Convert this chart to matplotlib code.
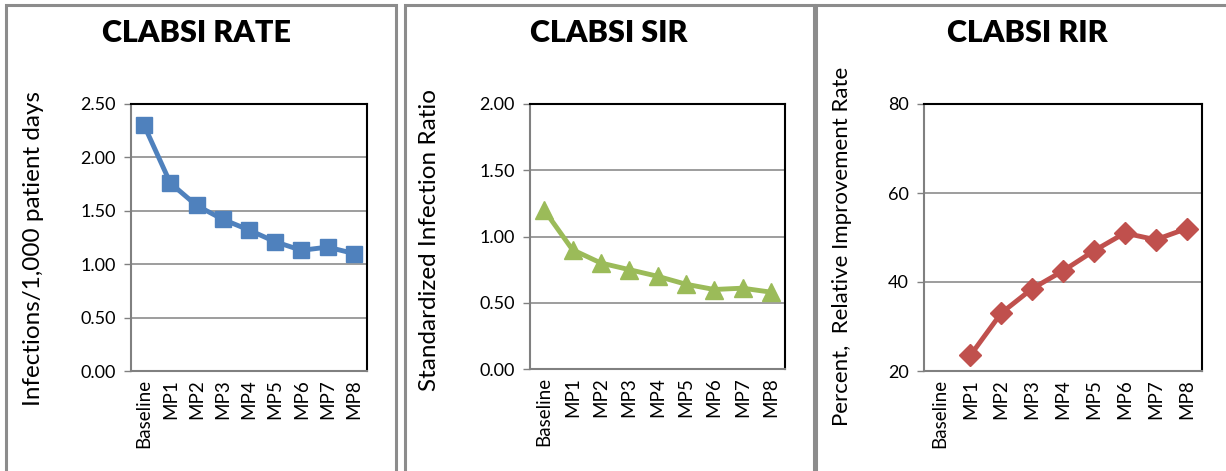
import matplotlib
matplotlib.use("Agg")
import matplotlib.pyplot as plt
from matplotlib.patches import Rectangle
import numpy as np

categories = ["Baseline", "MP1", "MP2", "MP3", "MP4", "MP5", "MP6", "MP7", "MP8"]
rate = [2.30, 1.76, 1.55, 1.42, 1.32, 1.21, 1.13, 1.16, 1.10]
sir = [1.20, 0.90, 0.80, 0.75, 0.70, 0.64, 0.60, 0.61, 0.58]
rir = [np.nan, 23.5, 33.0, 38.5, 42.5, 47.0, 51.0, 49.5, 52.0]

W, H = 1226, 471
plt.rcParams["font.family"] = ["Lato", "DejaVu Sans"]

fig = plt.figure(figsize=(W / 100, H / 100), dpi=100)


def px_axes(left, top, right, bottom):
    return fig.add_axes([left / W, 1 - bottom / H, (right - left) / W, (bottom - top) / H])


# panel frames (left, right in pixels)
for x0, x1 in [(6, 396), (405, 814), (816, 1240)]:
    fig.patches.append(Rectangle((x0 / W, -0.1), (x1 - x0) / W, 1.1 - 5 / H,
                                 transform=fig.transFigure, fill=False,
                                 edgecolor="#8c8c8c", linewidth=2.2))

panels = [
    dict(box=(131, 104, 367, 371), data=rate, color="#4F81BD", marker="s", ms=11.5,
         ylim=(0, 2.5), ticks=np.arange(0, 2.51, 0.5), fmt="{:.2f}",
         title="CLABSI RATE", title_x=196, ylabel="Infections/1,000 patient days",
         ylab_x=34, ylab_y=248, ylab_size=17.5),
    dict(box=(530, 104, 785, 369), data=sir, color="#9BBB59", marker="^", ms=12.5,
         ylim=(0, 2.0), ticks=np.arange(0, 2.01, 0.5), fmt="{:.2f}",
         title="CLABSI SIR", title_x=609, ylabel="Standardized Infection Ratio",
         ylab_x=430, ylab_y=240, ylab_size=17.5),
    dict(box=(924, 104, 1202, 371), data=rir, color="#C0504D", marker="D", ms=11,
         ylim=(20, 80), ticks=np.arange(20, 81, 20), fmt="{:.0f}",
         title="CLABSI RIR", title_x=1027, ylabel="Percent,  Relative Improvement Rate",
         ylab_x=842, ylab_y=246, ylab_size=16),
]

for p in panels:
    ax = px_axes(*p["box"])
    x = np.arange(len(categories))
    ax.plot(x, p["data"], color=p["color"], linewidth=3.5, marker=p["marker"],
            markersize=p["ms"], zorder=3)
    ax.set_xlim(-0.5, len(categories) - 0.5)
    ax.set_ylim(*p["ylim"])
    ax.set_yticks(p["ticks"])
    ax.set_yticklabels([p["fmt"].format(t) for t in p["ticks"]], fontsize=13)
    ax.set_xticks(x)
    ax.set_xticklabels(categories, rotation=90, fontsize=13.5)
    ax.tick_params(axis="x", length=0, pad=6)
    ax.tick_params(axis="y", length=5, width=1, color="#808080", pad=6)
    ax.grid(axis="y", color="#8c8c8c", linewidth=1.2)
    ax.set_axisbelow(True)
    for s in ["top", "right"]:
        ax.spines[s].set_color("black")
        ax.spines[s].set_linewidth(1.5)
    for s in ["left", "bottom"]:
        ax.spines[s].set_color("#808080")
        ax.spines[s].set_linewidth(1.5)
    fig.text(p["title_x"] / W, 1 - 33 / H, p["title"], ha="center", va="center",
             fontsize=22, fontweight="heavy")
    fig.text(p["ylab_x"] / W, 1 - p["ylab_y"] / H, p["ylabel"],
             rotation=90, ha="center", va="center", fontsize=p["ylab_size"])

fig.savefig("out.png", dpi=100)
